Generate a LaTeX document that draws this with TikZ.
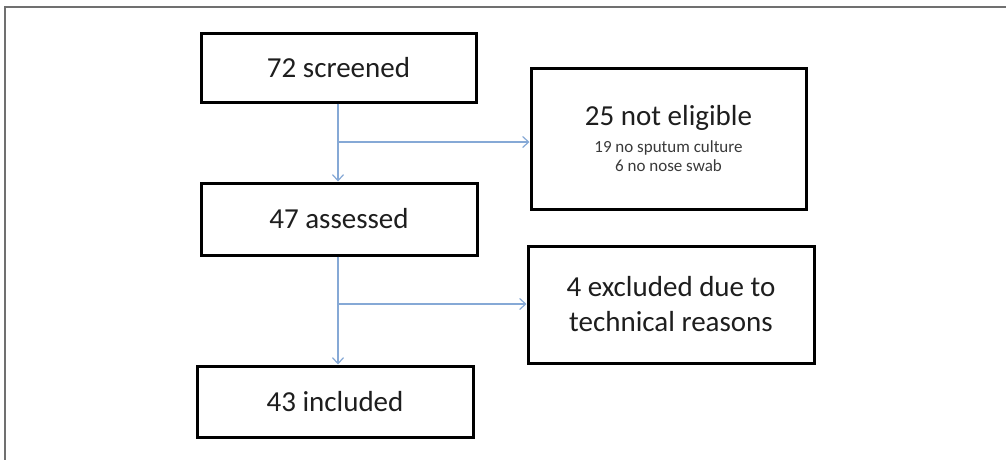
\documentclass[tikz,border=0pt]{standalone}
\usepackage{fontspec}
\setmainfont{Carlito}
\usetikzlibrary{arrows.meta}
\definecolor{arrblue}{HTML}{86A9D6}
\definecolor{txt}{HTML}{1E1E1E}
\definecolor{smalltxt}{HTML}{3A3A3A}
\definecolor{framegray}{HTML}{707070}
\begin{document}
\begin{tikzpicture}[x=1pt,y=-1pt,
  box/.style={draw=black,line width=3pt,fill=white,text=txt,align=center,inner sep=0pt},
  arr/.style={draw=arrblue,line width=1.3pt,-{Straight Barb[length=6pt,width=11pt,line width=1.2pt]}},
  big/.style={font=\fontsize{29}{35}\selectfont},
  small/.style={font=\fontsize{17}{19}\selectfont}]
\useasboundingbox (0,0) rectangle (1006,459);
\fill[white] (0,0) rectangle (1006,459);
\draw[framegray,line width=2pt] (5,470) -- (5,7) -- (1010,7);
\node[box,big,minimum width=275,minimum height=69] (b1) at (338.5,67.5) {72 screened};
\node[box,minimum width=275,minimum height=141] (b2) at (668.5,138.5) {};
\node[big,text=txt,anchor=center,inner sep=0pt] (t2) at (668.5,118) {25 not eligible};
\node[small,text=smalltxt,align=center,anchor=center,inner sep=0pt] (t2b) at (668.5,156.5) {19 no sputum culture\\6 no nose swab};
\node[box,big,minimum width=276,minimum height=72] (b3) at (339,219) {47 assessed};
\node[box,big,minimum width=286,minimum height=117] (b4) at (671,304.5) {4 excluded due to\\technical reasons};
\node[box,big,minimum width=276,minimum height=71] (b5) at (335,401.5) {43 included};
\coordinate (j1) at (338,142);
\coordinate (j2) at (338,304);
\draw[arr] (b1.south -| j1) -- (b3.north -| j1);
\draw[arr] (j1) -- (j1 -| b2.west);
\draw[arr] (b3.south -| j2) -- (b5.north -| j2);
\draw[arr] (j2) -- (j2 -| b4.west);
\end{tikzpicture}
\end{document}
